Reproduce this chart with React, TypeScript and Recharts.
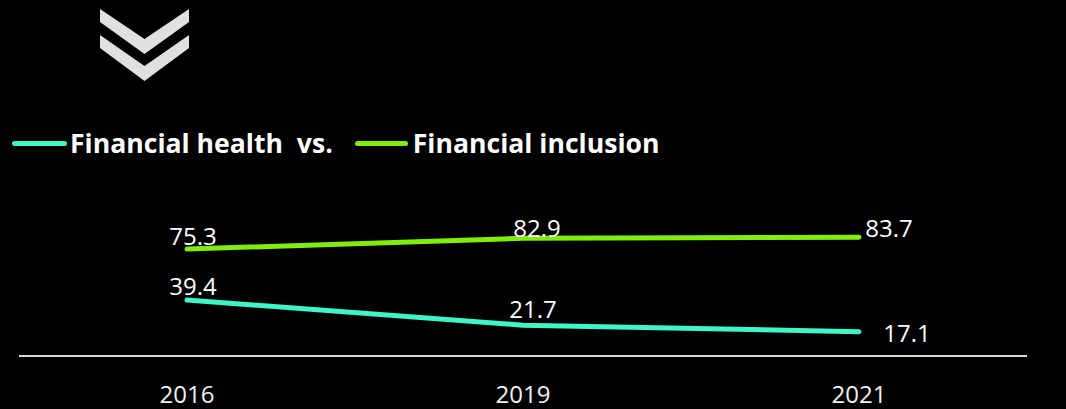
import React from "react";
import { LineChart, Line, XAxis, YAxis, Legend, LabelList } from "recharts";

const years = ["2016", "2019", "2021"];
const healthValues = [39.4, 21.7, 17.1];
const inclusionValues = [75.3, 82.9, 83.7];
const seriesNames = ["Financial health  vs.", "Financial inclusion"];
const seriesColors = ["#3ff6c8", "#80ee0a"];

const data = years.map((y, i) => ({
  year: y,
  health: healthValues[i],
  inclusion: inclusionValues[i],
}));

// label offsets relative to each point (style, not data)
const healthLabelOffsets = [
  [6, -5],
  [10, -7],
  [48, 10],
];
const inclusionLabelOffsets = [
  [6, -4],
  [14, -1],
  [30, 0],
];

const FONT = "'Open Sans', 'Noto Sans', sans-serif";

const makeLabel = (offsets: number[][]) => (props: any) => {
  const { x, y, value, index } = props;
  const [dx, dy] = offsets[index] || [0, 0];
  return (
    <text
      x={x + dx}
      y={y + dy}
      textAnchor="middle"
      fill="#ffffff"
      fontSize={24}
      fontFamily={FONT}
    >
      {value}
    </text>
  );
};

const Tick = (props: any) => {
  const { x, y, payload } = props;
  return (
    <text
      x={x}
      y={y + 39}
      textAnchor="middle"
      fill="#f0f0f0"
      fontSize={24}
      fontFamily={FONT}
    >
      {payload.value}
    </text>
  );
};

const LegendContent = (props: any) => {
  const { payload } = props;
  return (
    <div style={{ height: 0, position: "relative" }}>
      <div
        style={{
          position: "absolute",
          left: 0,
          top: 0,
          display: "flex",
          alignItems: "center",
          whiteSpace: "pre",
          fontFamily: FONT,
          fontWeight: 700,
          fontSize: 26.6,
          color: "#ffffff",
        }}
      >
        {(payload || []).map((p: any, i: number) => (
          <div
            key={i}
            style={{
              display: "flex",
              alignItems: "center",
              marginLeft: i === 0 ? 12 : 22,
            }}
          >
            <div
              style={{
                width: i === 0 ? 55 : 53,
                height: 5,
                borderRadius: 3,
                background: p.color,
                marginRight: i === 0 ? 3 : 5,
              }}
            />
            <span>{p.value}</span>
          </div>
        ))}
      </div>
    </div>
  );
};

export default function App() {
  return (
    <div
      style={{
        position: "absolute",
        left: 0,
        top: 0,
        width: 1066,
        height: 409,
        background: "#000000",
        overflow: "hidden",
      }}
    >
      <svg
        width={1066}
        height={100}
        style={{ position: "absolute", left: 0, top: 0 }}
      >
        <polygon
          points="100,9 144.5,39 189,9 189,22 144.5,54 100,22"
          fill="#e0e0e0"
        />
        <polygon
          points="100,35 144.5,66 189,35 189,48 144.5,81 100,48"
          fill="#e0e0e0"
        />
      </svg>
      <LineChart
        width={1066}
        height={409}
        data={data}
        margin={{ top: 214, right: 39, left: 19, bottom: 0 }}
        style={{ position: "absolute", left: 0, top: 0 }}
      >
        <XAxis
          dataKey="year"
          scale="band"
          height={53}
          axisLine={{ stroke: "#d9d9d9", strokeWidth: 2 }}
          tickLine={false}
          tick={<Tick />}
          interval={0}
        />
        <YAxis hide domain={[0, 100]} />
        <Legend
          verticalAlign="top"
          align="left"
          content={<LegendContent />}
          wrapperStyle={{ position: "absolute", top: 125, left: 0, width: 1066 }}
        />
        <Line
          type="linear"
          dataKey="health"
          name={seriesNames[0]}
          stroke={seriesColors[0]}
          strokeWidth={5}
          strokeLinecap="round"
          dot={false}
          activeDot={false}
          isAnimationActive={false}
        >
          <LabelList dataKey="health" content={makeLabel(healthLabelOffsets)} />
        </Line>
        <Line
          type="linear"
          dataKey="inclusion"
          name={seriesNames[1]}
          stroke={seriesColors[1]}
          strokeWidth={5}
          strokeLinecap="round"
          dot={false}
          activeDot={false}
          isAnimationActive={false}
        >
          <LabelList
            dataKey="inclusion"
            content={makeLabel(inclusionLabelOffsets)}
          />
        </Line>
      </LineChart>
    </div>
  );
}
